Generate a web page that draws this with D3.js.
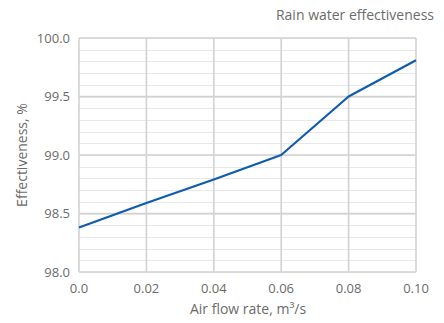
<!DOCTYPE html>
<html><head><meta charset="utf-8">
<script src="https://cdn.jsdelivr.net/npm/d3@7"></script>
<style>body{margin:0;background:#fff}svg{display:block}text{font-family:"Open Sans",sans-serif;fill:#6b6b6b}</style>
</head><body><svg width="444" height="323"></svg>
<script>
const flowRates = [0.0, 0.02, 0.04, 0.06, 0.08, 0.10];
const effectiveness = [98.38, 98.59, 98.79, 99.0, 99.5, 99.81];
const xTicks = [0, 0.02, 0.04, 0.06, 0.08, 0.10];
const xTickLabels = ["0.0", "0.02", "0.04", "0.06", "0.08", "0.10"];
const yTicks = [98.0, 98.5, 99.0, 99.5, 100.0];
const yMinorTicks = d3.range(98.0, 100.0001, 0.1);
const title = "Rain water effectiveness";
const xLabel = "Air flow rate, m³/s";
const yLabel = "Effectiveness, %";

const svg = d3.select("svg");
const L = 79, R = 416, T = 38, B = 272;
const x = d3.scaleLinear().domain([0, 0.10]).range([L, R]);
const y = d3.scaleLinear().domain([98, 100]).range([B, T]);

// minor grid
svg.append("g").selectAll("line").data(yMinorTicks).join("line")
  .attr("x1", L).attr("x2", R).attr("y1", d => Math.round(y(d)) + 0.5).attr("y2", d => Math.round(y(d)) + 0.5)
  .attr("stroke", "#e8e8e8").attr("stroke-width", 1);
// major horizontal grid
svg.append("g").selectAll("line").data(yTicks).join("line")
  .attr("x1", L).attr("x2", R).attr("y1", d => y(d)).attr("y2", d => y(d))
  .attr("stroke", "#d2d2d2").attr("stroke-width", 1.6);
// vertical grid
svg.append("g").selectAll("line").data(xTicks).join("line")
  .attr("x1", d => x(d)).attr("x2", d => x(d)).attr("y1", T).attr("y2", B)
  .attr("stroke", "#d2d2d2").attr("stroke-width", 1.6);

// y tick labels
svg.append("g").selectAll("text").data(yTicks).join("text")
  .attr("x", L - 9).attr("y", d => y(d)).attr("dy", "0.35em")
  .attr("text-anchor", "end").attr("font-size", 13).text(d => d.toFixed(1));
// x tick labels
svg.append("g").selectAll("text").data(xTicks).join("text")
  .attr("x", d => x(d)).attr("y", B + 21)
  .attr("text-anchor", "middle").attr("font-size", 13).text((d, i) => xTickLabels[i]);

// line
svg.append("path").datum(flowRates.map((f, i) => [f, effectiveness[i]]))
  .attr("fill", "none").attr("stroke", "#0f5bb0").attr("stroke-width", 2.2)
  .attr("stroke-linejoin", "round")
  .attr("d", d3.line().x(d => x(d[0])).y(d => y(d[1])));

// title
svg.append("text").attr("x", 434).attr("y", 20).attr("text-anchor", "end")
  .attr("font-size", 14).text(title);
// x label
svg.append("text").attr("x", 248).attr("y", 314).attr("text-anchor", "middle")
  .attr("font-size", 14).text(xLabel);
// y label
svg.append("text").attr("transform", `translate(27,${(T + B) / 2}) rotate(-90)`)
  .attr("text-anchor", "middle").attr("font-size", 14).text(yLabel);
</script></body></html>
